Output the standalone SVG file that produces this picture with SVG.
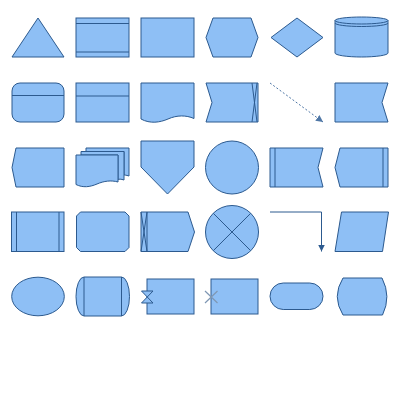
<svg xmlns="http://www.w3.org/2000/svg" width="400" height="400" viewBox="0 0 400 400">
<style>
.s{fill:#8EBFF5;stroke:#2C5A8F;stroke-width:1;stroke-linejoin:miter}
.l{fill:none;stroke:#2C5A8F;stroke-width:1}
.g{fill:none;stroke:#7F97B3;stroke-width:1.2}
</style>
<defs>
<marker id="ah" markerWidth="8" markerHeight="8" refX="7" refY="4" orient="auto" markerUnits="userSpaceOnUse">
<path d="M0,0.5 L7,4 L0,7.5 Z" fill="#2C5A8F"/>
</marker>
<marker id="ah2" markerWidth="8" markerHeight="8" refX="7" refY="4" orient="auto" markerUnits="userSpaceOnUse">
<path d="M0,0.5 L7,4 L0,7.5 Z" fill="#4F77A6"/>
</marker>
</defs>
<rect width="400" height="400" fill="#fff"/>
<!-- row 1 -->
<g id="n-triangle"><polygon class="s" points="38,18 64,57 12,57"/></g>
<g id="n-process"><rect class="s" x="76" y="18" width="53" height="39"/><path class="l" d="M76,23.5H129M76,52H129"/></g>
<g id="n-rect"><rect class="s" x="141" y="18" width="53" height="39"/></g>
<g id="n-hexagon"><polygon class="s" points="213,18 251,18 258,37.5 251,57 213,57 206,37.5"/></g>
<g id="n-diamond"><polygon class="s" points="297,18 323,37.5 297,57 271,37.5"/></g>
<g id="n-cylinder"><path class="s" d="M335,20.5A26.5,3.5 0 0 1 388,20.5V53A26.5,4 0 0 1 335,53Z"/><path class="l" d="M335,20.5A26.5,3.5 0 0 0 388,20.5M335,23A26.5,3.5 0 0 0 388,23"/></g>
<!-- row 2 -->
<g id="n-internal"><rect class="s" x="12" y="83" width="52" height="39" rx="8"/><path class="l" d="M12,95.5H64"/></g>
<g id="n-header"><rect class="s" x="76" y="83" width="53" height="39"/><path class="l" d="M76,96H129"/></g>
<g id="n-document"><path class="s" d="M141,83H194V118.5C186,115 177,115 168,119C160,122.5 150,124 141,119Z"/></g>
<g id="n-step"><polygon class="s" points="206,83 258,83 258,122 206,122 212,102.5"/><path class="l" d="M252,83L257,122M257,83L252,122"/></g>
<g id="n-notch"><polygon class="s" points="335,83 388,83 382,102.5 388,122 335,122"/></g>
<!-- row 3 -->
<g id="n-display"><polygon class="s" points="16,148 64,148 64,187 16,187 12,167.5"/></g>
<g id="n-multidoc">
<path class="s" d="M86,148H129V176C126,175 124,175 124,175V151.5H86Z"/>
<path class="s" d="M81,151.5H124V180C121,179 119,179 118,179.5V155H81Z"/>
<path class="s" d="M76,155H118V182C111,180 104,181 97,184C90,187 83,188 76,184.5Z"/>
</g>
<g id="n-offpage"><polygon class="s" points="141,141 194,141 194,167 167.5,194 141,167"/></g>
<g id="n-circle"><circle class="s" cx="232" cy="167.5" r="26.5"/></g>
<g id="n-flag-l"><polygon class="s" points="270,148 323,148 318,167.5 323,187 270,187"/><path class="l" d="M275,148V187"/></g>
<g id="n-flag-r"><polygon class="s" points="340,148 388,148 388,187 340,187 335,167.5"/><path class="l" d="M383,148V187"/></g>
<!-- row 4 -->
<g id="n-predefined"><rect class="s" x="11.5" y="212" width="52.5" height="39.5"/><path class="l" d="M16.5,212V251.5M59,212V251.5"/></g>
<g id="n-chamfer"><polygon class="s" points="80.5,212 125,212 129,216 129,247.5 125,251.5 80.5,251.5 76.5,247.5 76.5,216"/></g>
<g id="n-arrowbox"><polygon class="s" points="141,212 188,212 194.5,232 188,251.5 141,251.5"/><path class="l" d="M147,212V251.5M141,212L147,251.5M147,212L141,251.5"/></g>
<g id="n-summing"><circle class="s" cx="232" cy="232" r="26.5"/><path class="l" d="M213.3,213.3L250.7,250.7M250.7,213.3L213.3,250.7"/></g>
<g id="n-parallelogram"><polygon class="s" points="341.5,212 388.5,212 382.5,251.5 335,251.5"/></g>
<!-- row 5 -->
<g id="n-ellipse"><ellipse class="s" cx="38" cy="296.5" rx="26.3" ry="19.3"/></g>
<g id="n-storage"><path class="s" d="M84,277H121.5A8,19.5 0 0 1 121.5,316H84A8,19.5 0 0 1 84,277Z"/><path class="l" d="M84,277V316M121.5,277V316"/></g>
<g id="n-hourglass-box"><rect class="s" x="147" y="279" width="47" height="35"/><polygon class="s" points="141.5,291 153,291 141.5,303 153,303"/></g>
<g id="n-x-box"><rect class="s" x="211" y="279" width="47" height="35"/><path class="g" d="M205,291L217.5,303M217.5,291L205,303"/></g>
<g id="n-terminator"><rect class="s" x="270" y="283" width="53" height="26.5" rx="13.25"/></g>
<g id="n-loop"><path class="s" d="M343,278H382Q391.5,296.5 382.5,315H343Q331.5,296.5 343,278Z"/></g>
<!-- connectors -->
<g id="connectors">
<path d="M270,83L323,122" fill="none" stroke="#4F77A6" stroke-width="1" stroke-dasharray="2,2" marker-end="url(#ah2)"/>
<path d="M270,212H321.5V251.5" fill="none" stroke="#2C5A8F" stroke-width="1" marker-end="url(#ah)"/>
</g>
</svg>
